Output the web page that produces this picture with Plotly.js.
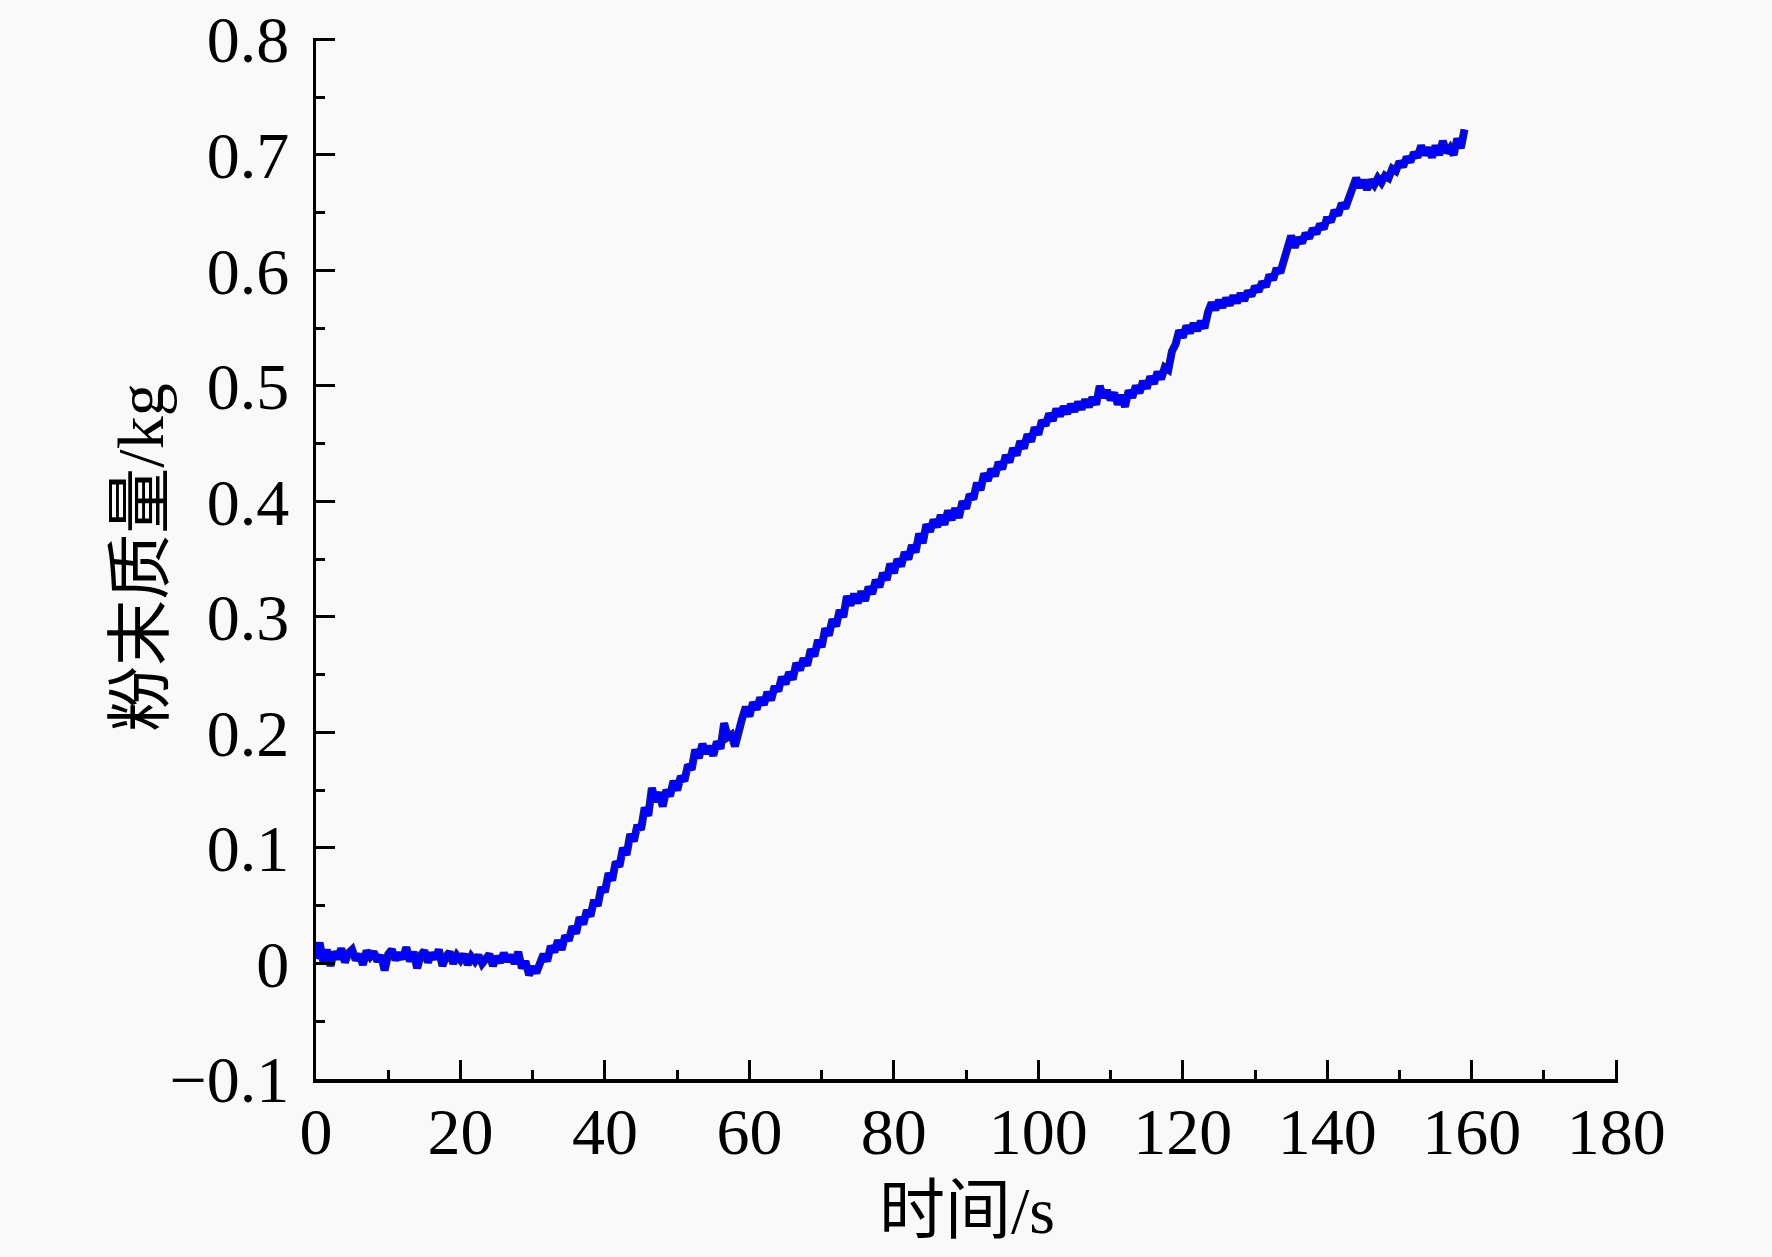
<!DOCTYPE html>
<html>
<head>
<meta charset="utf-8">
<script src="https://cdn.plot.ly/plotly-3.0.1.min.js"></script>
<style>
  html, body { margin: 0; padding: 0; background: #f9f9f9; }
  #chart { width: 1772px; height: 1257px; }
</style>
</head>
<body>
<div id="chart"></div>
<script>
// sampling of the record, s
var sample_step = 0.5

// powder mass, kg, one row = 5 s
var mass = [
    0.004, 0.018, 0.002, 0.012, -0.002, 0.010, 0.004, 0.013, 0.001, 0.009,
    0.012, 0.003, 0.008, -0.001, 0.011, 0.006, 0.010, 0.002, 0.007, -0.006,
    0.008, 0.012, 0.003, 0.009, 0.004, 0.014, 0.002, 0.010, -0.004, 0.007,
    0.011, 0.001, 0.009, 0.004, 0.012, -0.002, 0.006, 0.010, 0.000, 0.007,
    0.003, 0.008, -0.001, 0.006, 0.002, 0.007, 0.000, 0.005, 0.008, -0.002,
    0.006, 0.001, 0.009, 0.002, 0.007, 0.000, 0.010, -0.004, 0.002, -0.010,
    -0.003, -0.008, 0.000, 0.008, 0.002, 0.015, 0.010, 0.020, 0.012, 0.024,
    0.020, 0.032, 0.026, 0.040, 0.034, 0.046, 0.041, 0.055, 0.050, 0.066,
    0.062, 0.078, 0.072, 0.088, 0.084, 0.100, 0.094, 0.112, 0.106, 0.120,
    0.116, 0.135, 0.128, 0.152, 0.140, 0.148, 0.136, 0.150, 0.145, 0.158,
    0.150, 0.162, 0.158, 0.172, 0.168, 0.185, 0.178, 0.190, 0.182, 0.188,
    0.180, 0.192, 0.186, 0.208, 0.196, 0.198, 0.188, 0.204, 0.212, 0.222,
    0.214, 0.226, 0.220, 0.230, 0.224, 0.235, 0.228, 0.240, 0.236, 0.248,
    0.242, 0.252, 0.246, 0.260, 0.254, 0.264, 0.258, 0.272, 0.266, 0.280,
    0.274, 0.290, 0.284, 0.298, 0.292, 0.306, 0.300, 0.318, 0.310, 0.320,
    0.312, 0.322, 0.314, 0.326, 0.320, 0.332, 0.326, 0.338, 0.332, 0.346,
    0.338, 0.350, 0.344, 0.356, 0.350, 0.362, 0.356, 0.372, 0.364, 0.380,
    0.374, 0.384, 0.378, 0.388, 0.380, 0.392, 0.384, 0.394, 0.386, 0.400,
    0.394, 0.406, 0.402, 0.416, 0.410, 0.424, 0.418, 0.428, 0.422, 0.434,
    0.428, 0.440, 0.434, 0.446, 0.440, 0.452, 0.446, 0.458, 0.452, 0.464,
    0.458, 0.470, 0.466, 0.476, 0.470, 0.480, 0.474, 0.482, 0.476, 0.484,
    0.478, 0.486, 0.480, 0.488, 0.482, 0.490, 0.484, 0.500, 0.490, 0.496,
    0.488, 0.494, 0.484, 0.492, 0.482, 0.496, 0.490, 0.500, 0.494, 0.504,
    0.498, 0.508, 0.502, 0.512, 0.506, 0.516, 0.514, 0.530, 0.536, 0.548,
    0.542, 0.552, 0.546, 0.554, 0.548, 0.556, 0.550, 0.564, 0.572, 0.566,
    0.574, 0.568, 0.576, 0.570, 0.578, 0.572, 0.580, 0.574, 0.582, 0.578,
    0.586, 0.582, 0.590, 0.586, 0.596, 0.592, 0.602, 0.598, 0.610, 0.622,
    0.630, 0.620, 0.628, 0.624, 0.632, 0.628, 0.636, 0.632, 0.640, 0.636,
    0.646, 0.642, 0.652, 0.648, 0.658, 0.654, 0.664, 0.670, 0.680, 0.672,
    0.678, 0.670, 0.678, 0.674, 0.680, 0.676, 0.682, 0.680, 0.688, 0.686,
    0.694, 0.690, 0.698, 0.694, 0.702, 0.698, 0.708, 0.700, 0.706, 0.698,
    0.708, 0.700, 0.712, 0.702, 0.706, 0.700, 0.714, 0.706, 0.722
]

var x_ticks = [0, 20, 40, 60, 80, 100, 120, 140, 160, 180]
var y_ticks = [-0.1, 0, 0.1, 0.2, 0.3, 0.4, 0.5, 0.6, 0.7, 0.8]
var y_tick_labels = ["\u22120.1", "0", "0.1", "0.2", "0.3", "0.4", "0.5", "0.6", "0.7", "0.8"]

var x_title = "时间/s"
var y_title = "粉末质量/kg"

var time = []
for (let i = 0; i < mass.length; i++) {
    time.push(i * sample_step)
}

var font_family = '"Liberation Serif", "Times New Roman", "Noto Sans CJK SC", serif'

// dark edge under the blue line
var edge = {
    x: time,
    y: mass,
    type: 'scatter',
    mode: 'lines',
    line: { color: '#1a1a80', width: 8 },
    hoverinfo: 'skip'
}
var trace = {
    x: time,
    y: mass,
    type: 'scatter',
    mode: 'lines',
    line: { color: '#0000ff', width: 5 }
}

var axis_common = {
    showline: true,
    linecolor: '#000',
    linewidth: 3.5,
    showgrid: false,
    zeroline: false,
    ticks: 'inside',
    ticklen: 19,
    tickwidth: 3,
    tickcolor: '#000',
    tickfont: { family: font_family, size: 66, color: '#000' },
    ticklabeloverflow: 'allow',
    automargin: false
}

var title_font = { family: font_family, size: 66, color: '#000' }

// ranges run a pixel or two past the last tick: plotly drops inside ticks sitting on the end
var layout = {
    width: 1772,
    height: 1257,
    paper_bgcolor: '#f9f9f9',
    plot_bgcolor: '#f9f9f9',
    showlegend: false,
    margin: { l: 316, r: 154, t: 38, b: 178 },
    xaxis: Object.assign({}, axis_common, {
        range: [0, 180.25],
        tickmode: 'array',
        tickvals: x_ticks,
        ticktext: x_ticks.map(String),
        ticklabelstandoff: -8,
        minor: { dtick: 10, tick0: 0, ticks: 'inside', ticklen: 9, tickwidth: 3, tickcolor: '#000' }
    }),
    yaxis: Object.assign({}, axis_common, {
        range: [-0.1, 0.8012],
        tickmode: 'array',
        tickvals: y_ticks,
        ticktext: y_tick_labels,
        ticklabelstandoff: 10,
        minor: { dtick: 0.05, tick0: 0, ticks: 'inside', ticklen: 9, tickwidth: 3, tickcolor: '#000' }
    }),
    annotations: [
        {
            text: x_title, xref: 'paper', yref: 'paper', x: 0.5, y: -0.126,
            xanchor: 'center', yanchor: 'middle', showarrow: false, font: title_font
        },
        {
            text: y_title, xref: 'paper', yref: 'paper', x: -0.135, y: 0.501,
            xanchor: 'center', yanchor: 'middle', textangle: -90, showarrow: false, font: title_font
        }
    ]
}

Plotly.newPlot('chart', [edge, trace], layout, { staticPlot: true, responsive: false })
</script>
</body>
</html>
